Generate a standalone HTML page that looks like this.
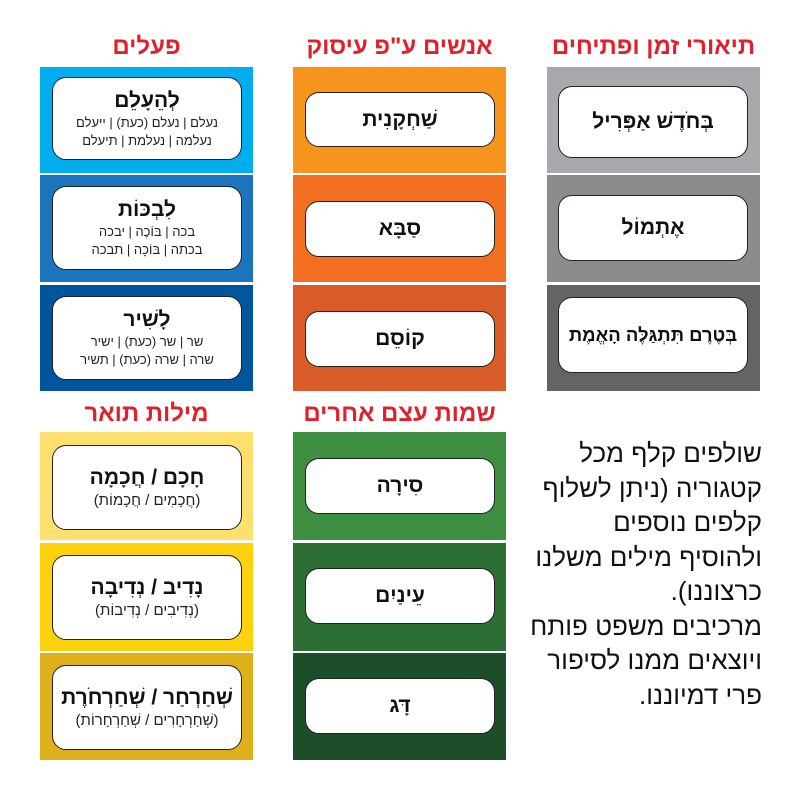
<!DOCTYPE html>
<html><head><meta charset="utf-8"><style>
body{margin:0;width:800px;height:800px;background:#fff;position:relative;font-family:"Liberation Sans","DejaVu Sans",sans-serif;overflow:hidden}
.p{position:absolute;width:213px}
.b{position:absolute;background:#fff;border:1.5px solid #222;border-radius:14px;box-sizing:border-box;direction:rtl;text-align:center;display:flex;flex-direction:column;justify-content:center;align-items:center;white-space:nowrap}
.t{position:absolute;color:#e0202a;font-size:24px;font-weight:bold;direction:rtl;text-align:center;width:213px;top:33px}
.w{font-size:21px;font-weight:bold;color:#111;line-height:26px}
.s{font-size:13px;color:#222;line-height:18px}
.s2{font-size:15px;color:#222;line-height:20px}
.para{position:absolute;left:500px;top:436px;width:262px;direction:rtl;text-align:right;font-size:26px;line-height:34.5px;color:#111;white-space:nowrap}
</style></head><body>
<div class="t" style="left:40px">פעלים</div>
<div class="t" style="left:293px">אנשים ע"פ עיסוק</div>
<div class="t" style="left:547px">תיאורי זמן ופתיחים</div>
<div class="t" style="left:40px;top:400px">מילות תואר</div>
<div class="t" style="left:293px;top:400px">שמות עצם אחרים</div>

<div class="p" style="left:40px;top:67px;height:106px;background:#00aeef"></div>
<div class="p" style="left:40px;top:175px;height:107px;background:#1c75bc"></div>
<div class="p" style="left:40px;top:285px;height:106px;background:#00559c"></div>
<div class="b" style="left:52px;top:77px;width:190px;height:83px"><div class="w">לְהֵעָלֵם</div><div class="s">נעלם | נעלם (כעת) | ייעלם</div><div class="s">נעלמה | נעלמת | תיעלם</div></div>
<div class="b" style="left:52px;top:186px;width:190px;height:84px"><div class="w">לִבְכּוֹת</div><div class="s">בכה | בּוֹכֶה | יבכה</div><div class="s">בכתה | בּוֹכָה | תבכה</div></div>
<div class="b" style="left:52px;top:296px;width:190px;height:84px"><div class="w">לָשִׁיר</div><div class="s">שר | שר (כעת) | ישיר</div><div class="s">שרה | שרה (כעת) | תשיר</div></div>

<div class="p" style="left:293px;top:67px;height:106px;background:#f7941d"></div>
<div class="p" style="left:293px;top:175px;height:107px;background:#f26f21"></div>
<div class="p" style="left:293px;top:285px;height:106px;background:#d95b27"></div>
<div class="b" style="left:305px;top:92px;width:190px;height:55px"><div class="w">שַׁחְקָנִית</div></div>
<div class="b" style="left:305px;top:201px;width:190px;height:56px"><div class="w">סַבָּא</div></div>
<div class="b" style="left:305px;top:311px;width:190px;height:56px"><div class="w">קוֹסֵם</div></div>

<div class="p" style="left:547px;top:67px;height:106px;background:#a7a9ac"></div>
<div class="p" style="left:547px;top:175px;height:107px;background:#8a8c8e"></div>
<div class="p" style="left:547px;top:285px;height:106px;background:#636466"></div>
<div class="b" style="left:558px;top:86px;width:190px;height:72px"><div class="w">בְּחֹדֶשׁ אַפְּרִיל</div></div>
<div class="b" style="left:558px;top:195px;width:190px;height:66px"><div class="w">אֶתְמוֹל</div></div>
<div class="b" style="left:558px;top:297px;width:190px;height:76px"><div class="w" style="font-size:18.5px">בְּטֶרֶם תִּתְגַּלֶּה הָאֱמֶת</div></div>

<div class="p" style="left:40px;top:432px;height:108px;background:#ffe06f"></div>
<div class="p" style="left:40px;top:543px;height:108px;background:#fcd20e"></div>
<div class="p" style="left:40px;top:653px;height:107px;background:#e0b01b"></div>
<div class="b" style="left:52px;top:445px;width:190px;height:85px"><div class="w">חָכָם / חֲכָמָה</div><div class="s2">(חֲכָמִים / חֲכָמוֹת)</div></div>
<div class="b" style="left:52px;top:555px;width:190px;height:85px"><div class="w">נָדִיב / נְדִיבָה</div><div class="s2">(נְדִיבִים / נְדִיבוֹת)</div></div>
<div class="b" style="left:52px;top:665px;width:190px;height:85px"><div class="w">שְׁחַרְחַר / שְׁחַרְחֹרֶת</div><div class="s2">(שְׁחַרְחָרִים / שְׁחַרְחָרוֹת)</div></div>

<div class="p" style="left:293px;top:432px;height:108px;background:#3e8e41"></div>
<div class="p" style="left:293px;top:543px;height:108px;background:#2d6e35"></div>
<div class="p" style="left:293px;top:653px;height:107px;background:#1e4d2a"></div>
<div class="b" style="left:305px;top:458px;width:190px;height:56px"><div class="w">סִירָה</div></div>
<div class="b" style="left:305px;top:568px;width:190px;height:56px"><div class="w">עֵינַיִם</div></div>
<div class="b" style="left:305px;top:678px;width:190px;height:56px"><div class="w">דָּג</div></div>

<div class="para">שולפים קלף מכל<br>קטגוריה (ניתן לשלוף<br>קלפים נוספים<br>ולהוסיף מילים משלנו<br>כרצוננו).<br>מרכיבים משפט פותח<br>ויוצאים ממנו לסיפור<br>פרי דמיוננו.</div>
</body></html>
